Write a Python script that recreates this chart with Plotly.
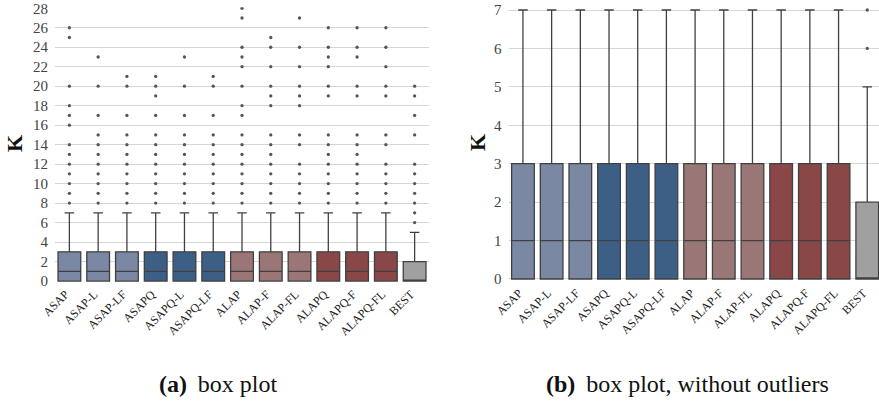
import plotly.graph_objects as go

categories = ["ASAP", "ASAP-L", "ASAP-LF", "ASAPQ", "ASAPQ-L", "ASAPQ-LF",
              "ALAP", "ALAP-F", "ALAP-FL", "ALAPQ", "ALAPQ-F", "ALAPQ-FL", "BEST"]
colors = ["#7A88A3", "#7A88A3", "#7A88A3", "#3D5F86", "#3D5F86", "#3D5F86",
          "#9A7776", "#9A7776", "#9A7776", "#8A4748", "#8A4748", "#8A4748", "#A0A0A0"]
q1 = [0, 0, 0, 0, 0, 0, 0, 0, 0, 0, 0, 0, 0]
median = [1, 1, 1, 1, 1, 1, 1, 1, 1, 1, 1, 1, 0]
q3 = [3, 3, 3, 3, 3, 3, 3, 3, 3, 3, 3, 3, 2]
lowerfence = [0, 0, 0, 0, 0, 0, 0, 0, 0, 0, 0, 0, 0]
upperfence = [7, 7, 7, 7, 7, 7, 7, 7, 7, 7, 7, 7, 5]
outliers = [
    [8, 9, 10, 11, 12, 13, 14, 16, 17, 18, 20, 25, 26],
    [8, 9, 10, 11, 12, 13, 14, 15, 17, 20, 23],
    [8, 9, 10, 11, 12, 13, 14, 15, 17, 20, 21],
    [8, 9, 10, 11, 12, 13, 14, 15, 17, 19, 20, 21],
    [8, 9, 10, 11, 12, 13, 14, 15, 17, 20, 23],
    [8, 9, 10, 11, 12, 13, 14, 15, 17, 20, 21],
    [8, 9, 10, 11, 12, 13, 14, 15, 17, 18, 20, 22, 23, 24, 27, 28],
    [8, 9, 10, 11, 12, 13, 14, 15, 18, 19, 20, 22, 24, 25],
    [8, 9, 10, 11, 12, 14, 15, 18, 19, 20, 22, 24, 27],
    [8, 9, 10, 11, 12, 13, 14, 15, 19, 20, 22, 23, 24, 26],
    [8, 9, 10, 11, 12, 13, 14, 15, 19, 20, 23, 24, 26],
    [8, 9, 10, 11, 12, 14, 15, 19, 20, 22, 24, 26],
    [6, 7, 8, 9, 10, 11, 12, 15, 17, 19, 20],
]
left_ticks = list(range(0, 29, 2))
right_ticks = list(range(0, 8))

FONT = "Liberation Serif"
W, H = 879, 402

fig = go.Figure()

for axis_suffix in ["", "2"]:
    for i, cat in enumerate(categories):
        fig.add_trace(go.Box(
            x=[cat], q1=[q1[i]], median=[median[i]], q3=[q3[i]],
            lowerfence=[lowerfence[i]], upperfence=[upperfence[i]],
            fillcolor=colors[i], line=dict(color="#404040", width=1.3),
            width=0.79, whiskerwidth=0.42, boxpoints=False,
            xaxis="x" + axis_suffix, yaxis="y" + axis_suffix,
            showlegend=False, hoverinfo="skip",
        ))
    ox, oy = [], []
    for i, cat in enumerate(categories):
        for v in outliers[i]:
            ox.append(cat)
            oy.append(v)
    fig.add_trace(go.Scatter(
        x=ox, y=oy, mode="markers",
        marker=dict(size=3.3, color="#555555"),
        xaxis="x" + axis_suffix, yaxis="y" + axis_suffix,
        showlegend=False, hoverinfo="skip",
    ))

def px_dom_x(a, b):
    return [a / W, b / W]

def px_dom_y(top, bottom):
    return [1 - bottom / H, 1 - top / H]

xcommon = dict(type="category", categoryorder="array", categoryarray=categories,
               tickangle=-45, tickfont=dict(family=FONT, size=12, color="#222"),
               showgrid=False, zeroline=False, showline=False, ticks="",
               ticklabelshift=-4, ticklabelstandoff=2,
               automargin=False)
ycommon = dict(tickfont=dict(family=FONT, size=15, color="#444"),
               showgrid=True, gridcolor="#d6d6d6", gridwidth=1,
               zeroline=False, showline=False, ticks="", ticklabelstandoff=6,
               automargin=False)

fig.update_layout(
    width=W, height=H,
    margin=dict(l=0, r=0, t=0, b=0),
    paper_bgcolor="white", plot_bgcolor="white",
    boxmode="overlay",
    xaxis=dict(domain=px_dom_x(55, 429), range=[-0.5, 12.5], anchor="y", **xcommon),
    yaxis=dict(domain=px_dom_y(7.3, 282), range=[-0.1, 28.1], tickvals=left_ticks,
               anchor="x", **ycommon),
    xaxis2=dict(domain=px_dom_x(508.6, 879), range=[-0.5, 12.41], anchor="y2", **xcommon),
    yaxis2=dict(domain=px_dom_y(8.1, 280.9), range=[-0.05, 7.05], tickvals=right_ticks,
                anchor="x2", **ycommon),
    annotations=[
        dict(text="<b>K</b>", x=14 / W, y=1 - 143 / H, xref="paper", yref="paper",
             xanchor="center", yanchor="middle",
             textangle=-90, showarrow=False, font=dict(family=FONT, size=22, color="#111")),
        dict(text="<b>K</b>", x=477 / W, y=1 - 143 / H, xref="paper", yref="paper",
             xanchor="center", yanchor="middle",
             textangle=-90, showarrow=False, font=dict(family=FONT, size=22, color="#111")),
        dict(text="<b>(a)</b>\u2009 box plot", x=218 / W, y=1 - 384 / H,
             xref="paper", yref="paper", xanchor="center", yanchor="middle",
             showarrow=False, font=dict(family=FONT, size=24, color="#111")),
        dict(text="<b>(b)</b>\u2009 box plot, without outliers", x=687 / W, y=1 - 384 / H,
             xref="paper", yref="paper", xanchor="center", yanchor="middle",
             showarrow=False, font=dict(family=FONT, size=24, color="#111")),
    ],
)

fig.write_html("out.html")
